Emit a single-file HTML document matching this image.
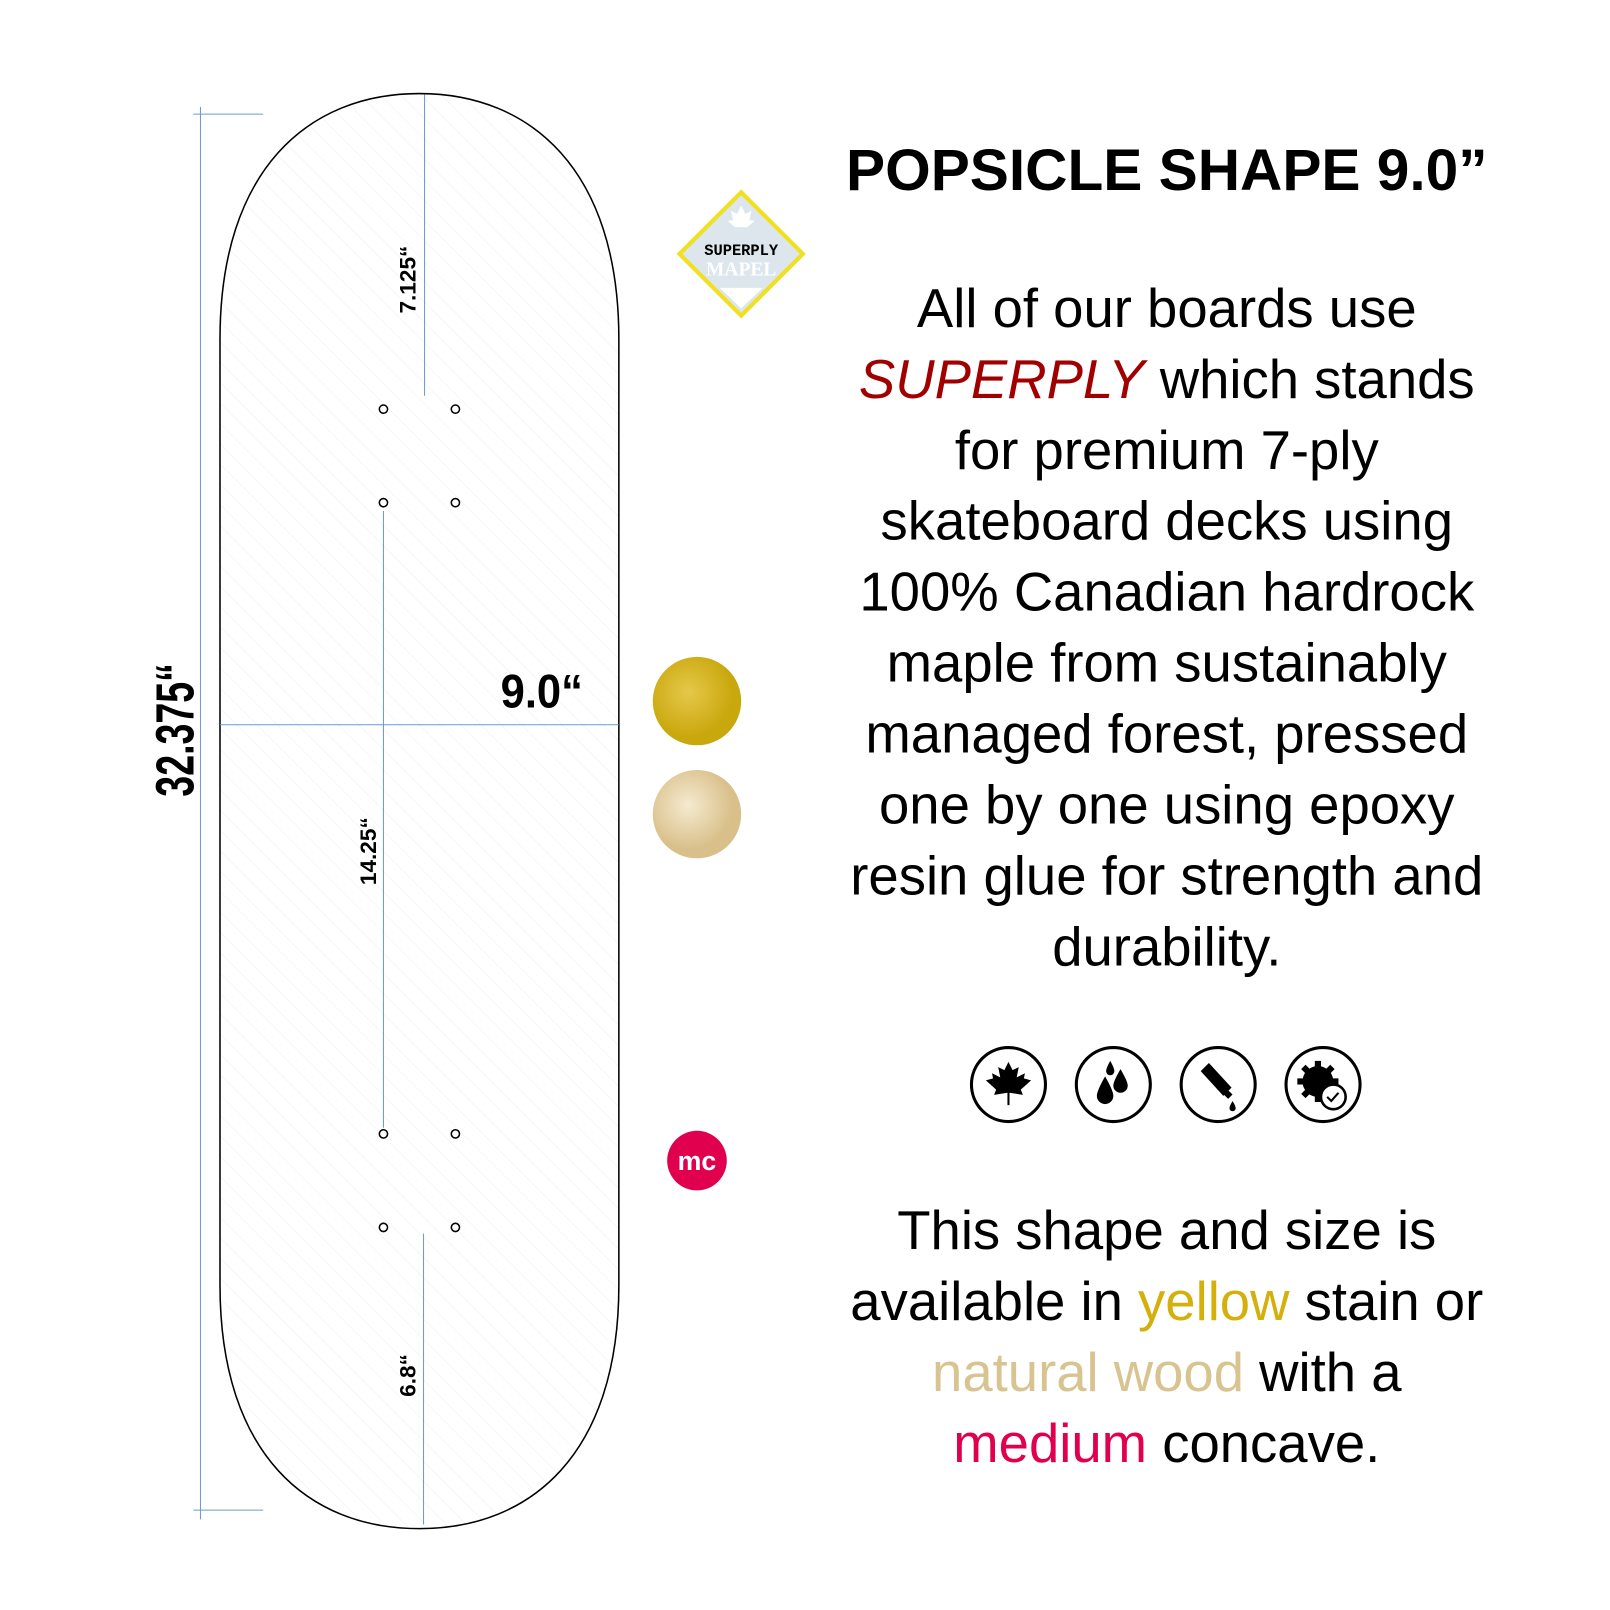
<!DOCTYPE html>
<html><head><style>
body{margin:0;width:1610px;height:1610px;background:#fff;overflow:hidden;position:relative;font-family:"Liberation Sans",sans-serif}
#w{position:absolute;left:0;top:0;width:1560px;height:1560px;transform:scale(1.028);transform-origin:0 0}
.t{position:absolute;left:790px;width:690px;text-align:center;color:#000}
</style></head><body><div id="w">
<svg width="1560" height="1560" style="position:absolute;left:0;top:0">
<defs>
<pattern id="h" width="14" height="14" patternUnits="userSpaceOnUse" patternTransform="rotate(-45)">
<line x1="0" y1="0" x2="0" y2="14" stroke="#eee" stroke-width="1"/></pattern>
<radialGradient id="y" cx="40%" cy="40%"><stop offset="0" stop-color="#e6c84a"/><stop offset="1" stop-color="#c9a80e"/></radialGradient>
<radialGradient id="n" cx="40%" cy="40%"><stop offset="0" stop-color="#f5ead0"/><stop offset="1" stop-color="#d9c08a"/></radialGradient>
</defs>
<path d="M214,330 C214,165 300,91 408,91 C516,91 602,165 602,330 L602,1250 C602,1415 516,1487 408,1487 C300,1487 214,1415 214,1250 Z" fill="url(#h)" stroke="#000" stroke-width="1.5"/>
<g stroke="#6a9ad0" stroke-width="1" fill="none">
<line x1="195" y1="104" x2="195" y2="1478"/>
<line x1="188" y1="111" x2="256" y2="111"/>
<line x1="188" y1="1469" x2="256" y2="1469"/>
<line x1="214" y1="705" x2="602" y2="705"/>
<line x1="413" y1="92" x2="413" y2="385"/>
<line x1="373" y1="497" x2="373" y2="1097"/>
<line x1="412" y1="1200" x2="412" y2="1483"/>
</g>
<g fill="#fff" stroke="#000" stroke-width="1.5">
<circle cx="373" cy="398" r="4"/><circle cx="443" cy="398" r="4"/>
<circle cx="373" cy="489" r="4"/><circle cx="443" cy="489" r="4"/>
<circle cx="373" cy="1103" r="4"/><circle cx="443" cy="1103" r="4"/>
<circle cx="373" cy="1194" r="4"/><circle cx="443" cy="1194" r="4"/>
</g>
<g font-family="Liberation Sans Narrow,Liberation Sans,sans-serif" font-weight="bold">
<text transform="translate(188,710) rotate(-90)" font-size="52" text-anchor="middle" textLength="130" lengthAdjust="spacingAndGlyphs">32.375“</text>
<text x="527" y="688" font-size="46" text-anchor="middle" textLength="80" lengthAdjust="spacingAndGlyphs">9.0“</text>
<text transform="translate(404,272) rotate(-90)" font-size="22" text-anchor="middle">7.125“</text>
<text transform="translate(366,828) rotate(-90)" font-size="22" text-anchor="middle">14.25“</text>
<text transform="translate(404,1338) rotate(-90)" font-size="22" text-anchor="middle">6.8“</text>
</g>
<polygon points="721,187 781,247 721,307 661,247" fill="#dce6ec" stroke="#f0e020" stroke-width="4"/>
<polygon points="700,280 742,280 721,300" fill="#fff"/>
<text x="721" y="248" font-family="Liberation Mono,monospace" font-weight="bold" font-size="15" text-anchor="middle">SUPERPLY</text>
<text x="721" y="268" font-family="Liberation Serif,serif" font-weight="bold" font-size="19" fill="#fff" text-anchor="middle">MAPEL</text>
<path d="M721,200 l4,8 6,-3 -2,9 5,1 -7,6 h-12 l-7,-6 5,-1 -2,-9 6,3z" fill="#fff"/>
<circle cx="678" cy="682" r="43" fill="url(#y)"/>
<circle cx="678" cy="792" r="43" fill="url(#n)"/>
<circle cx="678" cy="1129" r="29" fill="#e0004e"/>
<text x="678" y="1138" font-weight="bold" font-size="26" fill="#fff" text-anchor="middle">mc</text>
<g fill="none" stroke="#000" stroke-width="3">
<circle cx="981" cy="1055" r="36"/><circle cx="1083" cy="1055" r="36"/><circle cx="1185" cy="1055" r="36"/><circle cx="1287" cy="1055" r="36"/>
</g>
<g fill="#000">
<path d="M981,1033 l4,8 6,-3 -2,10 8,-4 -1,5 7,2 -10,9 2,5 -13,-2 v12 h-2 v-12 l-13,2 2,-5 -10,-9 7,-2 -1,-5 8,4 -2,-10 6,3z"/>
<path d="M1075,1047 q-8,14 -8,19 a8,8 0 0 0 16,0 q0,-5 -8,-19z"/>
<path d="M1090,1040 q-7,12 -7,16 a7,7 0 0 0 14,0 q0,-4 -7,-16z"/>
<path d="M1080,1032 q-4,7 -4,10 a4,4 0 0 0 8,0 q0,-3 -4,-10z"/>
<path d="M1168,1042 l8,-8 l22,24 l-8,8z"/>
<rect x="1191" y="1060" width="6" height="8" transform="rotate(-45 1194 1064)"/>
<path d="M1199,1071 q-3,5 -3,7 a3,3 0 0 0 6,0 q0,-2 -3,-7z"/>
<circle cx="1282" cy="1052" r="15"/>
<g transform="translate(1282 1052)">
<rect x="-3" y="-20" width="6" height="40"/><rect x="-3" y="-20" width="6" height="40" transform="rotate(45)"/><rect x="-3" y="-20" width="6" height="40" transform="rotate(90)"/><rect x="-3" y="-20" width="6" height="40" transform="rotate(135)"/>
</g>
</g>
<circle cx="1297" cy="1067" r="12" fill="#fff" stroke="#000" stroke-width="2.5"/>
<path d="M1291,1067 l4,4 l7,-8" fill="none" stroke="#000" stroke-width="2"/>
</svg>
<div class="t" style="top:134px;font-size:57px;font-weight:bold;line-height:64px">POPSICLE SHAPE 9.0”</div>
<div class="t" style="top:266px;font-size:53px;line-height:69px">All of our boards use<br><i style="color:#a00000">SUPERPLY</i> which stands<br>for premium 7-ply<br>skateboard decks using<br>100% Canadian hardrock<br>maple from sustainably<br>managed forest, pressed<br>one by one using epoxy<br>resin glue for strength and<br>durability.</div>
<div class="t" style="top:1163px;font-size:53px;line-height:69px">This shape and size is<br>available in <span style="color:#d4b00c">yellow</span> stain or<br><span style="color:#d8c490">natural wood</span> with a<br><span style="color:#e0004e">medium</span> concave.</div>
</div></body></html>
